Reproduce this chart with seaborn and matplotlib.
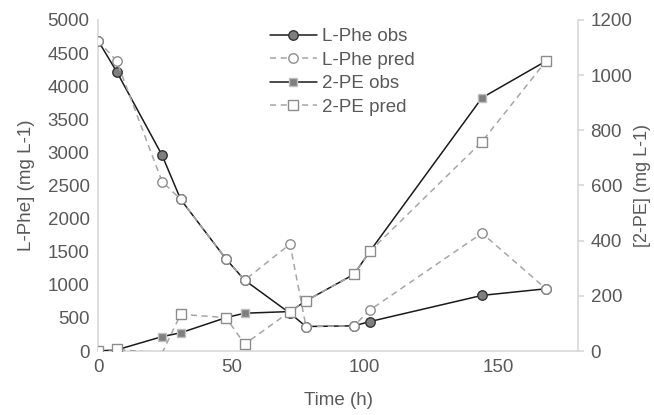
import matplotlib
matplotlib.use("Agg")
import matplotlib.pyplot as plt
import seaborn as sns
import numpy as np
import pandas as pd

time_h = [0, 7, 24, 31, 48, 55, 72, 78, 96, 102, 144, 168]
lphe_obs = [4690, 4220, 2960, 2290, 1390, 1070, 570, 370, 380, 445, 840, 940]
lphe_pred = [4690, 4380, 2560, 2290, 1390, 1070, 1615, 370, 380, 620, 1780, 940]
pe_obs = [0, 4, 52, 66, 121, 137, 143, 182, 278, 362, 918, 1051]
pe_pred = [0, 6, -8, 133, 121, 25, 143, 182, 278, 362, 759, 1051]

left_ticks = list(range(0, 5001, 500))
right_ticks = list(range(0, 1201, 200))
x_ticks = [0, 50, 100, 150]

sns.set_theme(style="white")
plt.rcParams['font.family'] = ['Liberation Sans', 'DejaVu Sans']
txt = '#595959'
spine_c = '#d9d9d9'
fs = 13.5

fig = plt.figure(figsize=(6.54, 4.15), dpi=100)
ax = fig.add_axes([98/654, 1-351/415, (578-98)/654, (351-20)/415])
ax2 = ax.twinx()

df = pd.DataFrame({'t': time_h, 'lo': lphe_obs, 'lp': lphe_pred, 'po': pe_obs, 'pp': pe_pred})

sns.lineplot(data=df, x='t', y='lo', ax=ax, color='#1a1a1a', lw=1.1, marker='o',
             markersize=6.8, markerfacecolor='#7f7f7f', markeredgecolor='#333333',
             markeredgewidth=1.0, label='L-Phe obs', legend=False, zorder=3)
sns.lineplot(data=df, x='t', y='lp', ax=ax, color='#a6a6a6', lw=1.1, marker='o',
             markersize=6.8, markerfacecolor='white', markeredgecolor='#8c8c8c',
             markeredgewidth=1.0, dashes=False, linestyle=(0, (4, 3)),
             label='L-Phe pred', legend=False, zorder=4)
sns.lineplot(data=df, x='t', y='po', ax=ax2, color='#1a1a1a', lw=1.1, marker='s',
             markersize=6, markerfacecolor='#7f7f7f', markeredgecolor='#bfbfbf',
             markeredgewidth=1.0, label='2-PE obs', legend=False, zorder=3)
mark_idx = [i for i in range(len(time_h)) if pe_pred[i] >= 0]
sns.lineplot(data=df, x='t', y='pp', ax=ax2, color='#a6a6a6', lw=1.1, marker='s',
             markersize=6.5, markerfacecolor='white', markeredgecolor='#8c8c8c',
             markeredgewidth=1.0, dashes=False, linestyle=(0, (4, 3)),
             markevery=mark_idx, label='2-PE pred', legend=False, zorder=4)

ax.set_xlim(0, 180)
ax.set_ylim(0, 5000)
ax2.set_ylim(0, 1200)
ax.set_xticks(x_ticks)
ax.set_yticks(left_ticks)
ax2.set_yticks(right_ticks)

for a in (ax, ax2):
    for s in a.spines.values():
        s.set_visible(False)
    a.grid(False)
ax.spines['bottom'].set_visible(True)
ax.spines['bottom'].set_color(spine_c)
ax.spines['left'].set_visible(True)
ax.spines['left'].set_color(spine_c)
ax2.spines['right'].set_visible(True)
ax2.spines['right'].set_color(spine_c)

ax.tick_params(axis='both', length=0, labelsize=fs, labelcolor=txt, pad=6)
ax2.tick_params(axis='y', length=4, color=spine_c, labelsize=fs, labelcolor=txt, pad=5)

ax.set_xlabel('Time (h)', fontsize=fs, color=txt, labelpad=11)
ax.set_ylabel('L-Phe] (mg L-1)', fontsize=fs, color=txt, labelpad=9)
ax2.set_ylabel('[2-PE] (mg L-1)', fontsize=13, color=txt, labelpad=1)

h1, l1 = ax.get_legend_handles_labels()
h2, l2 = ax2.get_legend_handles_labels()
fig.legend(h1 + h2, l1 + l2, loc='upper left', bbox_to_anchor=(270/654, 1-28/415),
           frameon=False, fontsize=13.5, labelcolor=txt, handlelength=2.5,
           handletextpad=0.3, labelspacing=0.34, borderpad=0, borderaxespad=0)

fig.savefig('out.png', dpi=100)
